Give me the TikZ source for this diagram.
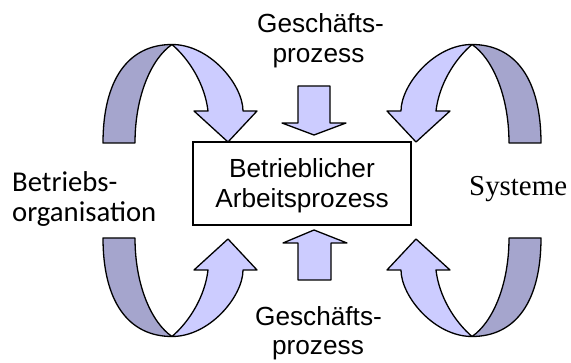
\documentclass[tikz,border=0pt]{standalone}
\usepackage{fontspec}
\setmainfont{Liberation Sans}
\newfontfamily\calfont{Carlito}
\newfontfamily\timesfont{Liberation Serif}
\definecolor{lightband}{HTML}{CCCCFF}
\definecolor{darkband}{HTML}{A5A5CD}
\tikzset{
  lightpart/.style={fill=lightband,draw=black,line width=1.3pt,line join=round},
  darkpart/.style={fill=darkband,draw=black,line width=1.3pt,line join=round},
  procbox/.style={draw=black,line width=1.1pt,minimum width=218pt,minimum height=83pt,inner sep=0pt},
  maintext/.style={font=\fontsize{26.2}{30}\selectfont,inner sep=0pt,anchor=base},
}
\newcommand\curvedarrowshape{%
  \path[darkpart] (103,143) .. controls (103,80) and (128,44.5) .. (172,44.5)
     .. controls (152,58) and (135,95) .. (135,143) -- cycle;
  \path[lightpart] (172,44.5) .. controls (210,44.5) and (243,85) .. (243,111)
     -- (257,111) -- (228,142) -- (194,111) -- (208,111)
     .. controls (205,85) and (190,60) .. (172,44.5) -- cycle;
}
\begin{document}
\begin{tikzpicture}[x=1pt,y=-1pt]
\useasboundingbox (0,0) rectangle (571,363);
% curved arrows
\begin{scope}\curvedarrowshape\end{scope}
\begin{scope}[shift={(644,0)},xscale=-1]\curvedarrowshape\end{scope}
\begin{scope}[shift={(0,381)},yscale=-1]\curvedarrowshape\end{scope}
\begin{scope}[shift={(644,381)},xscale=-1,yscale=-1]\curvedarrowshape\end{scope}
% straight arrows
\path[lightpart] (298,86) -- (330,86) -- (330,123) -- (346,123) -- (314,135) -- (282,123) -- (298,123) -- cycle;
\path[lightpart] (298,280) -- (331,280) -- (331,243) -- (347,243) -- (314,230) -- (283,243) -- (298,243) -- cycle;
% central box
\node[procbox] (box) at (302,183.5) {};
\node[maintext] (b1) at (302,178) {Betrieblicher};
\node[maintext] (b2) at (302,208) {Arbeitsprozess};
% labels
\node[maintext] (t1) at (320.5,33) {Geschäfts-};
\node[maintext] (t2) at (318.5,63) {prozess};
\node[maintext] (u1) at (318.5,326) {Geschäfts-};
\node[maintext] (u2) at (318,355) {prozess};
\node[inner sep=0pt,anchor=base west,font=\calfont\fontsize{28.7}{30}\selectfont] (l1) at (12,192) {Betriebs-};
\node[inner sep=0pt,anchor=base west,font=\calfont\fontsize{28.7}{30}\selectfont] (l2) at (12,222) {organisation};
\node[inner sep=0pt,anchor=base west,font=\timesfont\fontsize{28.9}{30}\selectfont] (r1) at (469,196) {Systeme};
\end{tikzpicture}
\end{document}
